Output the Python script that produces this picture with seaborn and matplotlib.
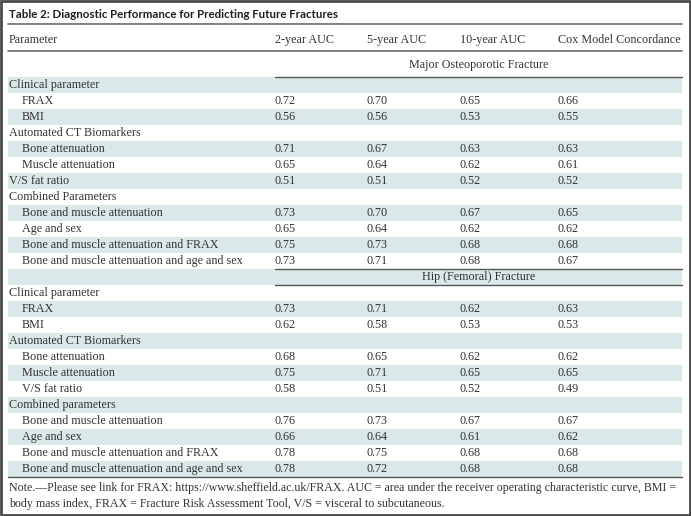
import numpy as np
import pandas as pd
import matplotlib
matplotlib.use("Agg")
import matplotlib.pyplot as plt
import seaborn as sns
from matplotlib.colors import ListedColormap

# region Datos de la tabla
title = "Table 2: Diagnostic Performance for Predicting Future Fractures"
columns = ["2-year AUC", "5-year AUC", "10-year AUC", "Cox Model Concordance"]
sections = ["Major Osteoporotic Fracture", "Hip (Femoral) Fracture"]

major_labels = ["Clinical parameter", "FRAX", "BMI", "Automated CT Biomarkers",
                "Bone attenuation", "Muscle attenuation", "V/S fat ratio",
                "Combined Parameters", "Bone and muscle attenuation", "Age and sex",
                "Bone and muscle attenuation and FRAX",
                "Bone and muscle attenuation and age and sex"]
major_indent = [0, 1, 1, 0, 1, 1, 0, 0, 1, 1, 1, 1]
major_auc2 = [None, 0.72, 0.56, None, 0.71, 0.65, 0.51, None, 0.73, 0.65, 0.75, 0.73]
major_auc5 = [None, 0.70, 0.56, None, 0.67, 0.64, 0.51, None, 0.70, 0.64, 0.73, 0.71]
major_auc10 = [None, 0.65, 0.53, None, 0.63, 0.62, 0.52, None, 0.67, 0.62, 0.68, 0.68]
major_cox = [None, 0.66, 0.55, None, 0.63, 0.61, 0.52, None, 0.65, 0.62, 0.68, 0.67]

hip_labels = ["Clinical parameter", "FRAX", "BMI", "Automated CT Biomarkers",
              "Bone attenuation", "Muscle attenuation", "V/S fat ratio",
              "Combined parameters", "Bone and muscle attenuation", "Age and sex",
              "Bone and muscle attenuation and FRAX",
              "Bone and muscle attenuation and age and sex"]
hip_indent = [0, 1, 1, 0, 1, 1, 1, 0, 1, 1, 1, 1]
hip_auc2 = [None, 0.73, 0.62, None, 0.68, 0.75, 0.58, None, 0.76, 0.66, 0.78, 0.78]
hip_auc5 = [None, 0.71, 0.58, None, 0.65, 0.71, 0.51, None, 0.73, 0.64, 0.75, 0.72]
hip_auc10 = [None, 0.62, 0.53, None, 0.62, 0.65, 0.52, None, 0.67, 0.61, 0.68, 0.68]
hip_cox = [None, 0.63, 0.53, None, 0.62, 0.65, 0.49, None, 0.67, 0.62, 0.68, 0.68]

note = ["Note.\u2014Please see link for FRAX: https://www.sheffield.ac.uk/FRAX. AUC = area under the receiver operating characteristic curve, BMI =",
        "body mass index, FRAX = Fracture Risk Assessment Tool, V/S = visceral to subcutaneous."]
# endregion

# region Construir el DataFrame
def bloque(labels, indent, a2, a5, a10, cox):
    return pd.DataFrame({"label": labels, "indent": indent,
                         columns[0]: a2, columns[1]: a5, columns[2]: a10, columns[3]: cox})

df = pd.concat([
    bloque(major_labels, major_indent, major_auc2, major_auc5, major_auc10, major_cox),
    pd.DataFrame({"label": [sections[1]], "indent": [-1]}),
    bloque(hip_labels, hip_indent, hip_auc2, hip_auc5, hip_auc10, hip_cox),
], ignore_index=True)
# endregion

# region Estilo y figura
sns.set_theme(style="white")
plt.rcParams["font.family"] = ["Liberation Serif", "DejaVu Serif"]

W, H = 691, 516
fig = plt.figure(figsize=(W / 100, H / 100), dpi=100)

x0, x1 = 8, 682          # borde izquierdo/derecho de la tabla
body_top, row_h = 77, 16  # primera fila del cuerpo y alto de fila
col_x = [275, 367, 460, 558]
txt = "#333333"
fs = 8.7
shade = "#dbe8e9"

# franjas alternas con un heatmap de seaborn
n = len(df)
stripes = (np.arange(n) % 2 == 0).astype(int).reshape(-1, 1)
hax = fig.add_axes([x0 / W, 1 - (body_top + n * row_h) / H, (x1 - x0) / W, n * row_h / H])
sns.heatmap(stripes, cmap=ListedColormap(["white", shade]), cbar=False, ax=hax,
            xticklabels=False, yticklabels=False, vmin=0, vmax=1)
hax.set_axis_off()

ax = fig.add_axes([0, 0, 1, 1], facecolor="none")
ax.set_xlim(0, W)
ax.set_ylim(H, 0)
ax.set_axis_off()
# endregion

# region Título, cabecera y líneas
ax.text(x0 + 1, 14, title, fontsize=8.25, fontweight="bold", family=["Lato", "DejaVu Sans"],
        color="#1e1e1e", va="center", ha="left")
ax.plot([x0, x1], [24, 24], color="#6b6b6b", lw=1.2)
ax.text(x0 + 1, 40, "Parameter", fontsize=fs, color=txt, va="center")
for cx, c in zip(col_x, columns):
    ax.text(cx, 40, c, fontsize=fs, color=txt, va="center")
ax.plot([x0, x1], [50.5, 50.5], color="#6b6b6b", lw=1.2)

ax.text((col_x[0] + x1) / 2, 65, sections[0], fontsize=fs, color=txt, va="center", ha="center")
ax.plot([col_x[0], x1], [76.5, 76.5], color="#555555", lw=1.0)
# endregion

# region Filas del cuerpo
for i, row in df.iterrows():
    y = body_top + i * row_h + row_h / 2
    if row["indent"] == -1:
        ax.text((col_x[0] + x1) / 2, y, row["label"], fontsize=fs, color=txt, va="center", ha="center")
        ax.plot([col_x[0], x1], [y - row_h / 2, y - row_h / 2], color="#555555", lw=1.0)
        ax.plot([col_x[0], x1], [y + row_h / 2, y + row_h / 2], color="#555555", lw=1.0)
        continue
    ax.text(x0 + 1 + 13 * row["indent"], y, row["label"], fontsize=fs, color=txt, va="center")
    for cx, c in zip(col_x, columns):
        v = row[c]
        if pd.notna(v):
            ax.text(cx, y, f"{v:.2f}", fontsize=fs, color=txt, va="center")

y_end = body_top + n * row_h
ax.plot([x0, x1], [y_end, y_end], color="#555555", lw=1.0)
# endregion

# region Nota al pie
for k, line in enumerate(note):
    ax.text(x0 + 1, y_end + 11 + 16 * k, line, fontsize=8.55, color=txt, va="center")
# endregion

# marco exterior
ax.add_patch(plt.Rectangle((1, 1), W - 2, H - 2, fill=False, edgecolor="#4a4a4a", lw=2))

fig.savefig("out.png", dpi=100)
